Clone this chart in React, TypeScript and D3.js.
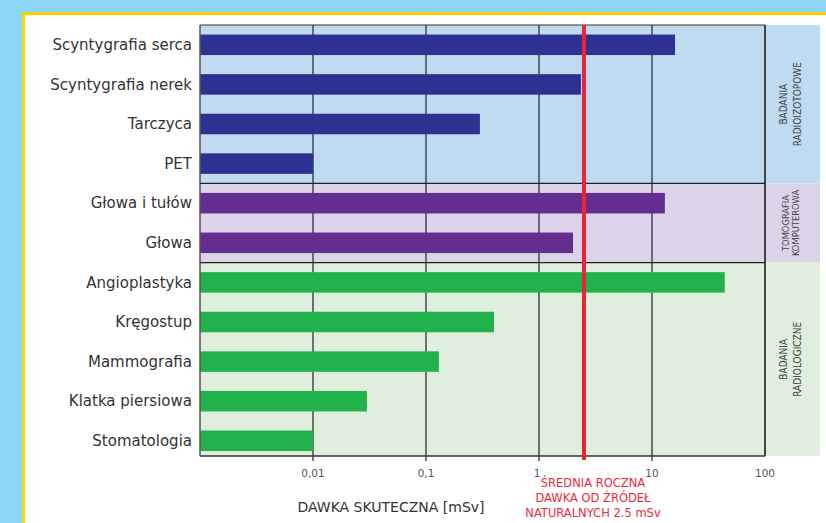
import React from "react";
import * as d3 from "d3";

const categories = [
  "Scyntygrafia serca",
  "Scyntygrafia nerek",
  "Tarczyca",
  "PET",
  "Głowa i tułów",
  "Głowa",
  "Angioplastyka",
  "Kręgostup",
  "Mammografia",
  "Klatka piersiowa",
  "Stomatologia",
];
const doses = [16, 2.35, 0.3, 0.01, 13, 2.0, 44, 0.4, 0.13, 0.03, 0.01];
const groupOf = [0, 0, 0, 0, 1, 1, 2, 2, 2, 2, 2];
const groups = [
  { lines: ["BADANIA", "RADIOIZOTOPOWE"], start: 0, end: 4 },
  { lines: ["TOMOGRAFIA", "KOMPUTEROWA"], start: 4, end: 6 },
  { lines: ["BADANIA", "RADIOLOGICZNE"], start: 6, end: 11 },
];
const barColors = ["#2e3192", "#662d91", "#22b24c"];
const bandColors = ["#bfdbf1", "#dcd3ea", "#dfeedd"];
const tickValues = [0.01, 0.1, 1, 10, 100];
const tickLabels = ["0,01", "0,1", "1", "10", "100"];
const naturalDose = 2.5;
const naturalLabel = ["ŚREDNIA ROCZNA", "DAWKA OD ŹRÓDEŁ", "NATURALNYCH 2.5 mSv"];

export default function App() {
  const W = 826, H = 523;
  const left = 200, right = 765, top = 25, bottom = 456;
  const x = d3.scaleLog().domain([0.001, 100]).range([left, right]);
  const row = d3.scaleBand().domain(categories).range([top, top + 11 * 39.6]);
  const barH = 20.5;
  const barY = (c: string) => row(c)! + (row.step() - barH) / 2;
  const font = "'DejaVu Sans', sans-serif";
  const narrow = "'Liberation Sans Narrow', 'DejaVu Sans Condensed', sans-serif";
  const bandTop = (i: number) => Math.min(bottom, top + i * row.step());
  const lineGap = [14, 10, 14];
  const rotSize = [10, 9.3, 10];
  return (
    <svg width={W} height={H} style={{ position: "absolute", left: 0, top: 0 }}>
      <rect x={0} y={0} width={W} height={H} fill="#8dd6f7" />
      <rect x={22} y={12} width={W - 22} height={H - 12} fill="#ffd200" />
      <rect x={25} y={15} width={W - 25} height={H - 15} fill="#ffffff" />
      {groups.map((g, gi) => (
        <rect key={gi} x={left} y={bandTop(g.start)} width={820 - left}
          height={bandTop(g.end) - bandTop(g.start)} fill={bandColors[gi]} />
      ))}
      {tickValues.slice(0, 4).map((t, i) => (
        <line key={i} x1={x(t)} x2={x(t)} y1={top} y2={bottom + 5} stroke="#222" strokeWidth={1.2} />
      ))}
      {categories.map((c, i) => (
        <rect key={c} x={left} y={barY(c)} width={x(doses[i]) - left} height={barH}
          fill={barColors[groupOf[i]]} />
      ))}
      {/* frame */}
      <line x1={left} x2={right} y1={top} y2={top} stroke="#333" strokeWidth={1.2} />
      <line x1={left} x2={right} y1={bottom} y2={bottom} stroke="#333" strokeWidth={1.5} />
      <line x1={left} x2={left} y1={top} y2={bottom} stroke="#555" strokeWidth={1.5} />
      <line x1={right} x2={right} y1={top} y2={bottom} stroke="#333" strokeWidth={1.8} />
      {groups.slice(1).map((g, gi) => (
        <line key={gi} x1={left} x2={right} y1={bandTop(g.start)} y2={bandTop(g.start)} stroke="#222" strokeWidth={1.2} />
      ))}
      <line x1={x(naturalDose)} x2={x(naturalDose)} y1={top} y2={bottom + 4} stroke="#ee2233" strokeWidth={4} />
      {categories.map((c) => (
        <text key={c} x={left - 8} y={row(c)! + row.step() / 2} dy="0.35em" textAnchor="end"
          fontFamily={font} fontSize={15} fill="#333">{c}</text>
      ))}
      {tickValues.map((t, i) => (
        <text key={t} x={x(t) - (i === 2 ? 2 : 0)} y={477} textAnchor="middle" fontFamily={font} fontSize={10.5} fill="#555">
          {tickLabels[i]}
        </text>
      ))}
      <text x={391} y={512} textAnchor="middle" fontFamily={font} fontSize={14} fill="#333">DAWKA SKUTECZNA [mSv]</text>
      {naturalLabel.map((l, i) => (
        <text key={i} x={593} y={487 + i * 15} textAnchor="middle" fontFamily={font} fontSize={11.5} fill="#ee2a3a">{l}</text>
      ))}
      {groups.map((g, gi) => {
        const cy = (bandTop(g.start) + bandTop(g.end)) / 2;
        const gap = lineGap[gi];
        return (
          <text key={gi} transform={`translate(790,${cy}) rotate(-90)`} textAnchor="middle"
            fontFamily={narrow} fontSize={rotSize[gi]} fill="#444">
            {g.lines.map((l, li) => (
              <tspan key={li} x={0} y={li === 0 ? -gap / 2 + 3.5 : gap / 2 + 3.5}>{l}</tspan>
            ))}
          </text>
        );
      })}
    </svg>
  );
}
